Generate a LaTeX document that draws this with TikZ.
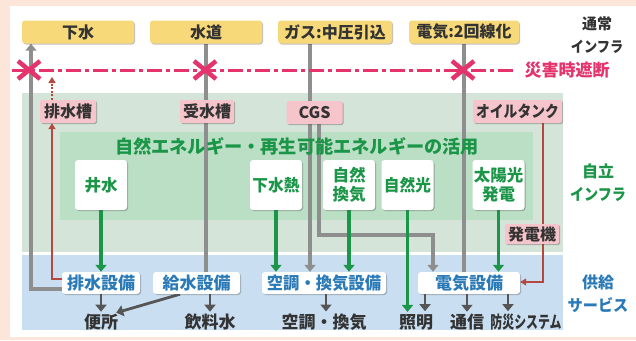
\documentclass[tikz,border=0pt]{standalone}
\usepackage{fontspec}
\usepackage{graphicx}
\setmainfont{Noto Sans CJK JP}
\usetikzlibrary{arrows.meta,shadows,calc}
\definecolor{peach}{HTML}{FCE6DA}
\definecolor{ybox}{HTML}{F8D97A}
\definecolor{pbox}{HTML}{F6C4CB}
\definecolor{gband}{HTML}{D5E4D9}
\definecolor{ginner}{HTML}{BBDFC4}
\definecolor{bband}{HTML}{C9DFF1}
\definecolor{gtxt}{HTML}{1B9548}
\definecolor{btxt}{HTML}{2A7AB8}
\definecolor{rline}{HTML}{E5336B}
\definecolor{brline}{HTML}{B5483F}
\definecolor{gl}{HTML}{8E8E8E}
\definecolor{dl}{HTML}{555555}
\definecolor{dtxt}{HTML}{333333}
\newcommand{\narrowtxt}[2]{\scalebox{#1}[1]{#2}}
\pgfdeclarelayer{bg}
\pgfdeclarelayer{lines}
\pgfsetlayers{bg,lines,main}
\begin{document}
\begin{tikzpicture}[x=1pt,y=-1pt,
  shad/.style={drop shadow={shadow xshift=1pt,shadow yshift=-1pt,opacity=0.25,fill=black}},
  topbox/.style={fill=ybox,rounded corners=3pt,shad,minimum height=23pt,inner sep=0pt,text=dtxt,font=\fontsize{16}{18}\selectfont\bfseries},
  pinkbox/.style={fill=pbox,rounded corners=2pt,shad,minimum height=23pt,inner sep=0pt,text=dtxt,font=\fontsize{16}{18}\selectfont\bfseries},
  whitebox/.style={fill=white,rounded corners=3pt,shad,minimum width=52pt,minimum height=50pt,inner sep=0pt,text=gtxt,align=center,font=\fontsize{16.5}{19}\selectfont\bfseries},
  svcbox/.style={fill=white,rounded corners=3pt,shad,minimum height=22pt,inner sep=0pt,text=btxt,font=\fontsize{17}{19}\selectfont\bfseries},
  outlbl/.style={inner sep=0pt,text=dtxt,font=\fontsize{17}{19}\selectfont\bfseries},
  sidelbl/.style={inner sep=0pt,align=center,font=\fontsize{16}{23}\selectfont\bfseries},
  gline/.style={draw=gl,line width=3.2pt},
  garrow/.style={gline,-{Triangle[width=11pt,length=7pt]}},
  grline/.style={draw=gtxt,line width=3.2pt,-{Triangle[width=11pt,length=7pt]}},
  darrow/.style={draw=dl,line width=2.8pt,-{Triangle[width=11pt,length=7pt]}},
  rthin/.style={draw=brline,line width=1.3pt},
  rarrow/.style={rthin,-{Triangle[width=7pt,length=6pt]}},
  cutline/.style={draw=rline,line width=3pt,dash pattern=on 15pt off 4pt on 4pt off 4pt},
  xmark/.style={draw=rline,line width=4.5pt}
]
\useasboundingbox (0,0) rectangle (636,340);
\begin{pgfonlayer}{bg}
\fill[peach] (0,0) rectangle (636,340);
\fill[white] (10,6) rectangle (636,337);
\fill[gband] (22,93) rectangle (563,252);
\fill[ginner] (60,132) rectangle (533,220);
\fill[bband] (22,255) rectangle (563,330);
\end{pgfonlayer}

% top infrastructure
\node[topbox,minimum width=112pt] (gesui) at (78,32) {下水};
\node[topbox,minimum width=112pt] (suido) at (206,32) {水道};
\node[topbox,minimum width=114pt] (gas) at (335,32) {ガス:中圧引込};
\node[topbox,minimum width=110pt] (denki) at (464,32) {電気:2回線化};

% right side labels
\node[sidelbl,text=dtxt,font=\fontsize{15}{23}\selectfont\bfseries] (tsujo) at (597,35) {通常\\\narrowtxt{0.88}{インフラ}};
\node[inner sep=0pt,text=rline,font=\fontsize{17}{19}\selectfont\bfseries] (saigai) at (567,70) {災害時遮断};
\node[sidelbl,text=gtxt] (jiritsu) at (598,183) {自立\\\narrowtxt{0.88}{インフラ}};
\node[sidelbl,text=btxt] (kyokyu) at (598,294) {供給\\\narrowtxt{0.95}{サービス}};

% self-sustaining infrastructure
\node[pinkbox,minimum width=56pt] (haisuiso) at (68,111.5) {排水槽};
\node[pinkbox,minimum width=54pt] (jusuiso) at (207,111.5) {受水槽};
\node[pinkbox,minimum width=56pt] (cgs) at (314.5,112.5) {CGS};
\node[pinkbox,minimum width=89pt] (oil) at (517.5,111.5) {\narrowtxt{0.86}{オイルタンク}};
\node[pinkbox,minimum width=54pt,minimum height=20pt] (hatsuden) at (532,234) {発電機};

\node[inner sep=0pt,text=gtxt,font=\fontsize{18.2}{20}\selectfont\bfseries] (title) at (297,146) {自然エネルギー・再生可能エネルギーの活用};

\node[whitebox] (seisui) at (101,185) {井水};
\node[whitebox] (gesuinetsu) at (276,185) {\narrowtxt{0.95}{下水熱}};
\node[whitebox] (kanki) at (349,185) {自然\\換気};
\node[whitebox] (shizenko) at (407.5,185) {\narrowtxt{0.95}{自然光}};
\node[whitebox] (taiyoko) at (498.5,185) {太陽光\\発電};

% services
\node[svcbox,minimum width=78pt] (haisui) at (101,283) {排水設備};
\node[svcbox,minimum width=87pt] (kyusui) at (196.5,283) {給水設備};
\node[svcbox,minimum width=124pt] (kucho) at (324,283) {\narrowtxt{0.96}{空調・換気設備}};
\node[svcbox,minimum width=102pt] (denkiS) at (469,283) {電気設備};

\node[outlbl] (benjo) at (101,322) {便所};
\node[outlbl] (inryo) at (210,322) {飲料水};
\node[outlbl] (kuchoL) at (324,322) {空調・換気};
\node[outlbl] (shomei) at (416,322) {照明};
\node[outlbl] (tsushin) at (467,322) {通信};
\node[outlbl] (bosai) at (526,322) {\narrowtxt{0.7}{防災システム}};

\coordinate (dotend) at (52,77);
\coordinate (cgsbend) at (433,235);
\coordinate (cutL) at (12,70);
\coordinate (cutR) at (516,70);

\begin{pgfonlayer}{lines}
% gray infrastructure lines
\draw[garrow] ([yshift=-6pt]haisui.west) -| ([xshift=-47pt]gesui.south);
\draw[gline] (suido.south) -- (suido.south |- kyusui.north);
\draw[gline] ([xshift=-25pt]gas.south) -- ([xshift=-4.5pt]cgs.north);
\draw[garrow] ([xshift=-4.5pt]cgs.south) -- ([xshift=-14pt]kucho.north);
\draw[garrow] ([xshift=4.5pt]cgs.south) |- (cgsbend) -- ([xshift=-36pt]denkiS.north);
\draw[gline] (denki.south) -- (denki.south |- denkiS.north);
% red lines
\draw[rarrow] ([yshift=4pt]haisui.west) -| ([xshift=-16pt]haisuiso.south);
\draw[rarrow,dash pattern=on 2pt off 1.5pt] (haisuiso.north -| dotend) -- (dotend);
\draw[rthin] ([xshift=25.5pt]oil.south) -- ([xshift=11pt]hatsuden.north);
\draw[rarrow] ([xshift=11pt]hatsuden.south) |- ([yshift=1pt]denkiS.east);
% green arrows
\draw[grline] (seisui.south) -- (haisui.north);
\draw[grline] (gesuinetsu.south) -- (gesuinetsu.south |- kucho.north);
\draw[grline] (kanki.south) -- (kanki.south |- kucho.north);
\draw[grline] (shizenko.south) -- ([yshift=2pt]shizenko.south |- shomei.north);
\draw[grline] (taiyoko.south) -- (taiyoko.south |- denkiS.north);
% service outputs
\draw[darrow] (haisui.south) -- ([yshift=2pt]benjo.north);
\draw[darrow] ([xshift=-16.5pt]kyusui.south) -- ([xshift=-2pt,yshift=1pt]benjo.north east);
\draw[darrow] ([xshift=13.5pt]kyusui.south) -- ([yshift=2pt]inryo.north);
\draw[darrow] ([xshift=2pt]kucho.south) -- ([xshift=2pt,yshift=2pt]kuchoL.north);
\draw[darrow] ([xshift=-44pt]denkiS.south) -- ([xshift=-44pt,yshift=-17pt]denkiS.south);
\draw[darrow] (denkiS.south -| tsushin.north) -- ([yshift=2pt]tsushin.north);
\draw[darrow] ([xshift=39pt]denkiS.south) -- ([xshift=39pt,yshift=-17pt]denkiS.south);
% disaster cut line
\draw[cutline] (cutL) -- (cutR);
\end{pgfonlayer}

% cross marks
\foreach \cx in {29,205,463}{
  \draw[xmark] (\cx-11,61) -- (\cx+11,79);
  \draw[xmark] (\cx-11,79) -- (\cx+11,61);
}
\end{tikzpicture}
\end{document}
